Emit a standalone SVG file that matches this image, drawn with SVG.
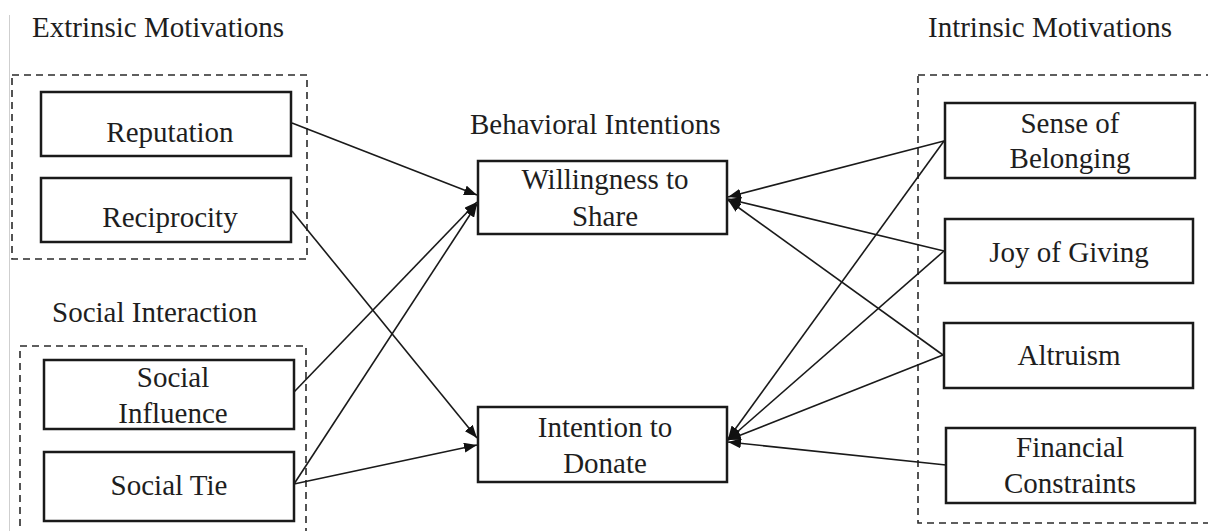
<svg xmlns="http://www.w3.org/2000/svg" width="1208" height="531" viewBox="0 0 1208 531">
<style>
  .t { font-family: "Liberation Serif", "Times New Roman", serif; font-size: 29px; fill: #1e1e1e; text-anchor: middle; }
  .tl { font-family: "Liberation Serif", "Times New Roman", serif; font-size: 29px; fill: #1e1e1e; }
  .box { fill: #ffffff; stroke: #1a1a1a; stroke-width: 2.5; }
  .dash { fill: none; stroke: #2a2a2a; stroke-width: 1.6; stroke-dasharray: 7 5; }
  .c { fill: none; stroke: #1a1a1a; stroke-width: 1.6; marker-end: url(#ah); }
</style>
<defs>
  <marker id="ah" markerUnits="userSpaceOnUse" markerWidth="14" markerHeight="10" refX="13" refY="5" orient="auto">
    <path d="M0,0 L13,5 L0,10 z" fill="#111"/>
  </marker>
</defs>
<rect x="0" y="0" width="1208" height="531" fill="#ffffff"/>
<line x1="9.5" y1="15" x2="9.5" y2="531" stroke="#cfcfcf" stroke-width="1"/>

<g id="groups">
  <rect class="dash" x="12" y="75" width="295" height="184"/>
  <rect class="dash" x="20" y="346" width="286" height="200"/>
  <rect class="dash" x="918" y="75" width="300" height="448"/>
  <text class="tl" x="32" y="37">Extrinsic Motivations</text>
  <text class="tl" x="52" y="322">Social Interaction</text>
  <text class="tl" x="470" y="134">Behavioral Intentions</text>
  <text class="tl" x="928" y="37">Intrinsic Motivations</text>
</g>

<g id="connectors">
  <line class="c" x1="292" y1="123" x2="477" y2="195"/>
  <line class="c" x1="294" y1="392" x2="477" y2="202"/>
  <line class="c" x1="294" y1="484" x2="477" y2="204"/>
  <line class="c" x1="292" y1="211" x2="477" y2="438"/>
  <line class="c" x1="294" y1="484" x2="477" y2="445"/>
  <line class="c" x1="944" y1="141" x2="728" y2="197"/>
  <line class="c" x1="944" y1="251" x2="728" y2="199"/>
  <line class="c" x1="943" y1="355" x2="728" y2="200"/>
  <line class="c" x1="944" y1="141" x2="728" y2="439"/>
  <line class="c" x1="944" y1="251" x2="728" y2="440"/>
  <line class="c" x1="943" y1="355" x2="728" y2="440"/>
  <line class="c" x1="946" y1="465" x2="728" y2="442"/>
</g>

<g id="reputation">
  <rect class="box" x="41" y="92" width="250" height="64"/>
  <text class="t" x="170" y="142">Reputation</text>
</g>
<g id="reciprocity">
  <rect class="box" x="41" y="178" width="250" height="64"/>
  <text class="t" x="170" y="227">Reciprocity</text>
</g>
<g id="social-influence">
  <rect class="box" x="44" y="360" width="250" height="69"/>
  <text class="t" x="173" y="387">Social</text>
  <text class="t" x="173" y="423">Influence</text>
</g>
<g id="social-tie">
  <rect class="box" x="44" y="452" width="250" height="69"/>
  <text class="t" x="169" y="495">Social Tie</text>
</g>
<g id="willingness">
  <rect class="box" x="478" y="161" width="249" height="73"/>
  <text class="t" x="605" y="189">Willingness to</text>
  <text class="t" x="605" y="226">Share</text>
</g>
<g id="donate">
  <rect class="box" x="478" y="407" width="249" height="75"/>
  <text class="t" x="605" y="437">Intention to</text>
  <text class="t" x="605" y="473">Donate</text>
</g>
<g id="belonging">
  <rect class="box" x="945" y="103" width="250" height="75"/>
  <text class="t" x="1070" y="133">Sense of</text>
  <text class="t" x="1070" y="168">Belonging</text>
</g>
<g id="joy">
  <rect class="box" x="945" y="219" width="248" height="64"/>
  <text class="t" x="1069" y="262">Joy of Giving</text>
</g>
<g id="altruism">
  <rect class="box" x="944" y="323" width="249" height="65"/>
  <text class="t" x="1069" y="365">Altruism</text>
</g>
<g id="financial">
  <rect class="box" x="946" y="428" width="249" height="75"/>
  <text class="t" x="1070" y="457">Financial</text>
  <text class="t" x="1070" y="493">Constraints</text>
</g>
</svg>
